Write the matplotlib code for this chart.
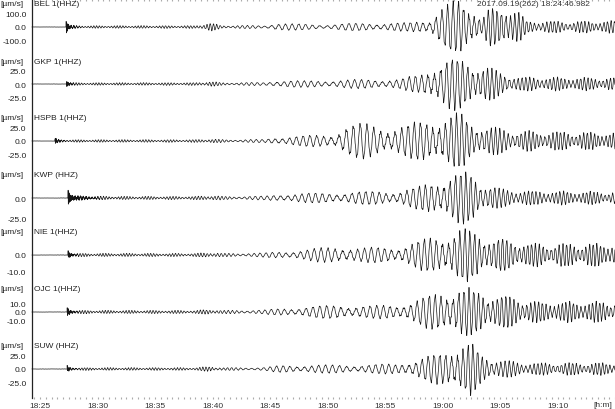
import numpy as np
import matplotlib
matplotlib.use("Agg")
import matplotlib.pyplot as plt
from matplotlib.ticker import MultipleLocator, FixedLocator, FixedFormatter

plt.rcParams['font.family'] = ['Liberation Sans', 'DejaVu Sans']

# ---------------- data ----------------
stations = ['BEL 1(HHZ)', 'GKP 1(HHZ)', 'HSPB 1(HHZ)', 'KWP (HHZ)',
            'NIE 1(HHZ)', 'OJC 1(HHZ)', 'SUW (HHZ)']
unit_label = '[µm/s]'
header = '2017.09.19(262) 18:24:46.982'

# y tick values per trace (µm/s) and half range of each panel
yticks = [[100, 0, -100], [25, 0, -25], [25, 0, -25], [0, -25],
          [0, -10], [10, 0, -10], [25, 0, -25]]
yhalf = [203.6, 50.9, 52.8, 35.6, 16.8, 31.7, 50.9]

# x axis: minutes after 18:25
x_start, x_end = -0.7, 50.0
xtick_pos = [0, 5, 10, 15, 20, 25, 30, 35, 40, 45]
xtick_lab = ['18:25', '18:30', '18:35', '18:40', '18:45', '18:50',
             '18:55', '19:00', '19:05', '19:10']

# P-arrival burst: time (min), amplitude (µm/s), coda decay (min)
p_time = [2.26, 2.30, 1.30, 2.43, 2.43, 2.35, 2.35]
p_amp = [50, 5.4, 5.6, 11, 2.4, 5.6, 5.4]
p_decay = [0.5, 0.6, 0.6, 1.3, 0.6, 0.6, 0.6]

# envelope knots (minutes after 18:25, µm/s)
bel_t = [-0.7, 3.5, 13.5, 14.8, 15.8, 19.5, 20.5, 22, 25, 27, 30, 32, 33.9, 34.75, 36.5, 37.6, 38.4, 39.1, 40.5, 41.7, 42.3, 46, 50]
bel_a = [4.3, 8.6, 9.3, 28.6, 10.7, 10.7, 28.6, 21.4, 17.9, 25, 28.6, 28.6, 57, 129, 193, 157, 50, 129, 150, 100, 43, 39, 43]
gkp_t = [-0.7, 3.5, 13.5, 14.8, 15.8, 19.5, 20.5, 23, 26, 29, 31.3, 33, 34.3, 35.6, 37.4, 38.5, 40, 41.5, 45, 50]
gkp_a = [1.1, 2.1, 2.3, 4.5, 2.3, 2.7, 6.3, 5.4, 7.1, 8.0, 8.9, 16, 36, 45, 39, 32, 21, 12.5, 11.6, 10.7]
hspb_t = [-0.7, 2.5, 13.5, 14.8, 16, 19.5, 20.5, 23, 25.5, 26.5, 28, 30, 32, 33.5, 35, 36.5, 37.5, 39, 41, 45, 50]
hspb_a = [1.1, 2.2, 2.4, 3.7, 2.4, 2.8, 7.4, 9.3, 13, 27.8, 31.5, 25.9, 29.6, 37, 46.3, 50, 33.3, 25.9, 18.5, 16.7, 14.8]
kwp_t = [-0.7, 4.5, 13.5, 14.8, 16, 19.5, 21, 25, 27, 31, 33, 34.5, 36, 37.5, 38.5, 40, 42, 50]
kwp_a = [0.75, 1.9, 1.9, 3.1, 1.9, 2.25, 5, 6.25, 7.5, 8.75, 13.75, 22.5, 31, 30, 18.75, 11.25, 8.75, 7.5]
nie_t = [-0.7, 3.5, 13.5, 14.8, 16, 19.5, 21, 23, 26, 28, 31, 33, 35, 36.5, 37.5, 39, 41, 43, 50]
nie_a = [0.35, 0.9, 0.9, 1.5, 0.9, 1.2, 2.1, 2.9, 5.3, 4.1, 4.7, 8.2, 11.8, 15.3, 14.1, 10.6, 8.8, 6.5, 6.5]
ojc_t = [-0.7, 3.5, 13.5, 14.8, 16, 19.5, 21, 23, 26, 29, 31, 33, 35, 36.5, 37.5, 39, 41, 43, 50]
ojc_a = [0.67, 1.7, 1.7, 2.8, 1.7, 2.2, 3.9, 5.6, 7.8, 6.7, 7.8, 14.4, 22.2, 28.9, 24.4, 20, 17.8, 11.1, 11.1]
suw_t = [-0.7, 3.5, 13.5, 14.8, 16, 19.5, 21, 23, 27, 31, 33, 35, 36.5, 37.5, 38.5, 40, 42, 50]
suw_a = [1.8, 2.3, 2.3, 4.5, 2.3, 2.7, 6.3, 7.1, 7.1, 8.9, 17.9, 28.6, 48, 45, 23, 16, 10.7, 10.7]

env_t = [bel_t, gkp_t, hspb_t, kwp_t, nie_t, ojc_t, suw_t]
env_a = [bel_a, gkp_a, hspb_a, kwp_a, nie_a, ojc_a, suw_a]

# dominant wave period (s) versus time (min)
per_t = [-0.7, 15, 20, 26, 31, 35, 38, 42, 50]
per_s = [14, 17, 35, 38, 35, 31, 25, 21, 19]

# ---------------- figure ----------------
W, H = 615, 410
fig = plt.figure(figsize=(W / 100, H / 100), dpi=100)

def fx(px):
    return px / W

def fy(py):
    return 1 - py / H

left_px, right_px = 32, 615
# base axes: left line, time ticks
base = fig.add_axes([fx(left_px), fy(399), fx(right_px - left_px), (399 - 1) / H])
base.set_xlim(x_start, x_end)
base.set_ylim(0, 1)
for s in ['top', 'right', 'bottom']:
    base.spines[s].set_visible(False)
base.spines['left'].set_color('#222222')
base.spines['left'].set_linewidth(0.9)
base.set_yticks([])
base.xaxis.set_major_locator(FixedLocator(xtick_pos))
base.xaxis.set_major_formatter(FixedFormatter(xtick_lab))
base.xaxis.set_minor_locator(MultipleLocator(0.5))
base.tick_params(axis='x', which='both', top=True, bottom=True, direction='inout',
                 length=1.6, width=0.8, color='#aaaaaa', labelsize=6,
                 labelcolor='#333333', pad=2)

dt = 0.5 / 60
t = np.arange(x_start, x_end, dt)
period = np.interp(t, per_t, per_s)
phase = 2 * np.pi * np.cumsum(dt * 60 / period)

for i in range(len(stations)):
    yc = 28 + 57 * i
    ax = fig.add_axes([fx(left_px), fy(yc + 28.5), fx(right_px - left_px), 57 / H])
    ax.patch.set_alpha(0)
    ax.set_xlim(x_start, x_end)
    ax.set_ylim(-yhalf[i], yhalf[i])
    for s in ax.spines.values():
        s.set_visible(False)
    ax.set_xticks([])
    ax.set_yticks(yticks[i])
    ax.set_yticklabels(['%.1f' % v for v in yticks[i]])
    ax.tick_params(axis='y', length=0, pad=4, labelsize=6, labelcolor='#222222')

    env = np.interp(t, env_t[i], env_a[i])
    env = np.where(t < p_time[i], env * 0.12, env)
    ph0 = 1.3 * i
    carrier = (0.72 * np.sin(phase + ph0) + 0.28 * np.sin(1.13 * phase + 0.7 * i)
               + 0.1 * np.sin(2 * np.pi * t * 60 / 7.3 + 2.1 * i))
    sig = env * carrier
    dtp = np.clip(t - p_time[i], 0, None)
    burst = np.where(t >= p_time[i],
                     p_amp[i] * (0.75 * np.exp(-dtp / 0.12) + 0.25 * np.exp(-dtp / p_decay[i]))
                     * np.sin(2 * np.pi * dtp * 60 / 2.6), 0)
    sig = sig + burst
    ax.plot(t, sig, color='#151515', lw=0.5, clip_on=False)

    fig.text(fx(0), fy(5 + 57 * i), unit_label, fontsize=6, color='#222222', va='center', ha='left')
    fig.text(fx(34), fy(5 + 57 * i), stations[i], fontsize=6, color='#222222', va='center', ha='left')

fig.text(fx(477), fy(5), header, fontsize=6, color='#333333', va='center', ha='left')
fig.text(fx(612), fy(406), '[h:m]', fontsize=6, color='#333333', va='center', ha='right')

fig.savefig('out.png', dpi=100)
